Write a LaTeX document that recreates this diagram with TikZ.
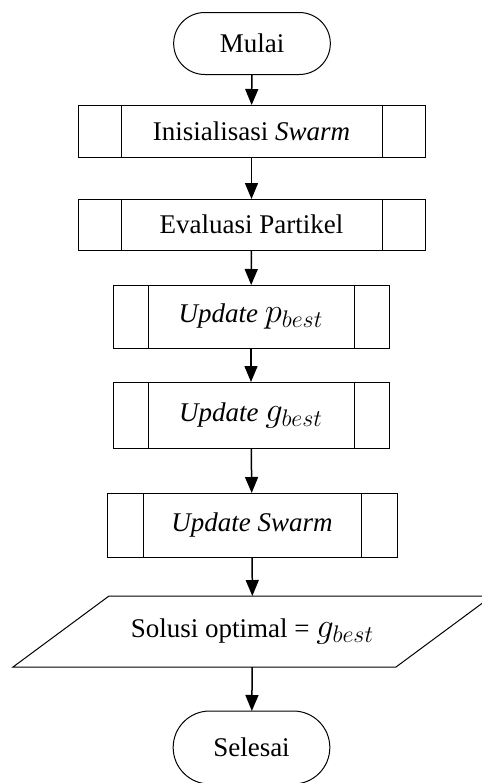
\documentclass[tikz,border=0pt]{standalone}
\usepackage{fontspec}
\setmainfont{Liberation Serif}
\usetikzlibrary{arrows.meta, shapes.misc}

\newcommand{\bigmath}[1]{{\fontsize{16.5}{18}\selectfont$#1$}}

\begin{document}
\begin{tikzpicture}[
        x=0.5pt, y=-0.5pt,
        >={Triangle[width=6.5pt, length=8pt]},
        % Styles
        termbox/.style={rounded rectangle, draw, line width=0.5pt, outer sep=0pt,
                minimum width=85pt, minimum height=31pt, align=center,
                font=\fontsize{13.5}{15}\selectfont},
        subproc/.style={rectangle, draw, line width=0.5pt, outer sep=0pt, align=center,
                font=\fontsize{13.5}{15}\selectfont,
                path picture={\draw[line width=0.5pt]
                    ([xshift=#1]path picture bounding box.north west) -- ([xshift=#1]path picture bounding box.south west)
                    ([xshift=-#1]path picture bounding box.north east) -- ([xshift=-#1]path picture bounding box.south east);}},
        iobox/.style={rectangle, outer sep=0pt, align=center,
                font=\fontsize{13.5}{15}\selectfont},
        arrow/.style={->, line width=0.75pt, black},
        ]

        \useasboundingbox (0,0) rectangle (482,783);

        % === START ===
        \node[termbox] (mulai) at (252,43.5) {Mulai};

        % === PSO STEPS ===
        \node[subproc=21.5pt, minimum width=173.5pt, minimum height=26pt] (init) at (251.5,131) {Inisialisasi \textit{Swarm}};
        \node[subproc=21.5pt, minimum width=173.5pt, minimum height=25.5pt] (eval) at (251.5,224.5) {Evaluasi Partikel};
        \node[subproc=17.5pt, minimum width=138pt, minimum height=31.5pt] (pbest) at (251,316.5) {\textit{Update} \bigmath{p_{best}}};
        \node[subproc=17.5pt, minimum width=138pt, minimum height=33pt] (gbest) at (251,415) {\textit{Update} \bigmath{g_{best}}};
        \node[subproc=18pt, minimum width=145pt, minimum height=32pt] (upswarm) at (252,525) {\textit{Update Swarm}};

        % === OUTPUT ===
        \node[iobox, minimum width=191.5pt, minimum height=35.5pt] (solusi) at (252.5,631.5) {Solusi optimal = \bigmath{g_{best}}};
        \draw[line width=0.5pt] ([xshift=24pt]solusi.north west) -- ([xshift=24pt]solusi.north east)
            -- ([xshift=-24pt]solusi.south east) -- ([xshift=-24pt]solusi.south west) -- cycle;

        % === END ===
        \node[termbox, minimum height=36.5pt] (selesai) at (251.5,747.5) {Selesai};

        % Connections
        \draw[arrow] (mulai) -- (init);
        \draw[arrow] (init) -- (eval);
        \draw[arrow] (eval) -- (pbest);
        \draw[arrow] (pbest) -- (gbest);
        \draw[arrow] (gbest) -- (upswarm);
        \draw[arrow] (upswarm) -- (solusi);
        \draw[arrow] (solusi) -- (selesai);

    \end{tikzpicture}
\end{document}
